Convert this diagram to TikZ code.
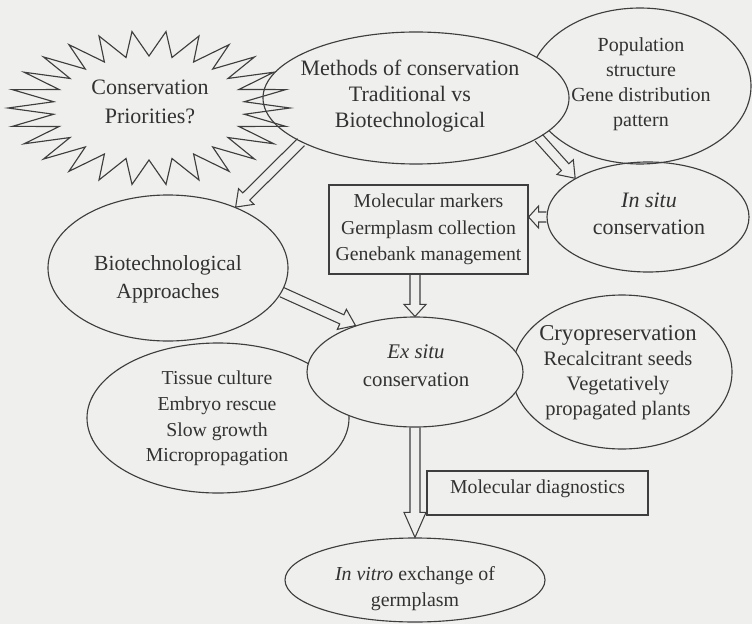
\documentclass[tikz,border=0pt]{standalone}
\usepackage{fontspec}
\setmainfont{Liberation Serif}
\usetikzlibrary{shapes.geometric,calc}

\definecolor{paper}{RGB}{239,239,237}
\definecolor{ink}{RGB}{50,50,50}
\definecolor{edge}{RGB}{62,62,62}

% hollow block arrow from #2 to #3, #1 = head length
\newcommand{\blockarrow}[3][11.25pt]{%
  \path (#2) coordinate (ba-a) (#3) coordinate (ba-b);
  \path ($(ba-b)!#1!(ba-a)$) coordinate (ba-c);
  \draw [arrowline] ($(ba-a)!3.75pt!90:(ba-b)$) -- ($(ba-c)!3.75pt!90:(ba-b)$)
    -- ($(ba-c)!8.25pt!90:(ba-b)$) -- (ba-b) -- ($(ba-c)!8.25pt!-90:(ba-b)$)
    -- ($(ba-c)!3.75pt!-90:(ba-b)$) -- ($(ba-a)!3.75pt!-90:(ba-b)$) ;
}

\begin{document}
\begin{tikzpicture}[x=0.75pt,y=0.75pt,yscale=-1,xscale=1,
  shapeline/.style={draw=edge, line width=0.85pt},
  oval/.style={shapeline, ellipse, inner sep=0pt},
  boxnode/.style={shapeline, rectangle, inner sep=0pt, align=center, text=ink,
    font=\fontsize{14.8}{19.9}\selectfont},
  arrowline/.style={draw=edge, line width=0.8pt, line join=miter},
  lbl/.style={align=center, text=ink, inner sep=0pt, font=\fontsize{15}{19.5}\selectfont},
  lblbig/.style={lbl, font=\fontsize{16.5}{20.5}\selectfont}]

%Shape: Rectangle (page)
\fill [paper] (0,0) rectangle (752,624) ;
\useasboundingbox (0,0) rectangle (752,624) ;

%Shape: Ellipse
\draw (640,86) node [oval, minimum width=166.5pt, minimum height=117pt] (popn) {} ;
%Shape: Ellipse
\draw (416,98) node [oval, fill=paper, minimum width=229.5pt, minimum height=99pt] (methods) {} ;
%Shape: Starburst
\draw [shapeline, line join=miter] plot [samples at={0,...,51}, variable=\k]
  ({149+(iseven(\k) ? 141 : 96)*cos(6.923*\k)}, {108+(iseven(\k) ? 77 : 52)*sin(6.923*\k)}) -- cycle ;
%Shape: Ellipse
\draw (648,217) node [oval, minimum width=151.5pt, minimum height=82.5pt] (insitu) {} ;
%Shape: Rectangle
\draw (428.5,229.5) node [boxnode, minimum width=149.25pt, minimum height=66.75pt] (markers)
  {Molecular markers\\Germplasm collection\\Genebank management} ;
%Shape: Ellipse
\draw (168,268) node [oval, minimum width=180pt, minimum height=109.5pt] (biotech) {} ;
%Shape: Ellipse
\draw (218,418) node [oval, minimum width=196.5pt, minimum height=112.5pt] (tissue) {} ;
%Shape: Ellipse
\draw (622,372) node [oval, minimum width=165pt, minimum height=115.5pt] (cryo) {} ;
%Shape: Ellipse
\draw (415,372) node [oval, fill=paper, minimum width=162pt, minimum height=82.5pt] (exsitu) {} ;
%Shape: Rectangle
\draw (537.5,493) node [boxnode, minimum width=165.75pt, minimum height=33pt,
  text height=10.5pt, text depth=10.5pt] (diag) {Molecular diagnostics} ;
%Shape: Ellipse
\draw (415,580) node [oval, minimum width=195pt, minimum height=63pt] (invitro) {} ;

%Shape: Block Arrows
\blockarrow{methods.201}{biotech.42}
\blockarrow{methods.-18}{insitu.152}
\blockarrow[7.5pt]{insitu.west}{markers.east |- insitu.west}
\blockarrow[9pt]{markers.south -| exsitu.north}{exsitu.north}
\blockarrow{biotech.-12}{exsitu.142}
\blockarrow[18.75pt]{exsitu.south}{invitro.north}

% Text Node
\draw (150,102) node [lblbig, font=\fontsize{16.5}{21.75}\selectfont] (t-prio) {Conservation\\Priorities?} ;
% Text Node
\draw (410,96) node [lblbig, font=\fontsize{16.5}{19.5}\selectfont] (t-methods) {Methods of conservation\\Traditional vs\\Biotechnological} ;
% Text Node
\draw (641,84.5) node [lbl, font=\fontsize{15}{18.75}\selectfont] (t-popn) {Population\\structure\\Gene distribution\\pattern} ;
% Text Node
\draw (649,213.5) node [lblbig] (t-insitu) {\textit{In situ}\\conservation} ;
% Text Node
\draw (168,279) node [lblbig, font=\fontsize{16.2}{21}\selectfont] (t-biotech) {Biotechnological\\Approaches} ;
% Text Node
\draw (416,366) node [lbl, font=\fontsize{15.6}{21}\selectfont] (t-exsitu) {\textit{Ex situ}\\conservation} ;
% Text Node
\draw (217,418.5) node [lbl, font=\fontsize{14.8}{19.3}\selectfont] (t-tissue) {Tissue culture\\Embryo rescue\\Slow growth\\Micropropagation} ;
% Text Node
\draw (618,372.5) node [lbl, font=\fontsize{15.4}{18.75}\selectfont] (t-cryo) {{\fontsize{17}{18.75}\selectfont Cryopreservation}\\Recalcitrant seeds\\Vegetatively\\propagated plants} ;
% Text Node
\draw (415,588.5) node [lbl, font=\fontsize{14.9}{20}\selectfont] (t-invitro) {\textit{In vitro} exchange of\\germplasm} ;

\end{tikzpicture}
\end{document}
